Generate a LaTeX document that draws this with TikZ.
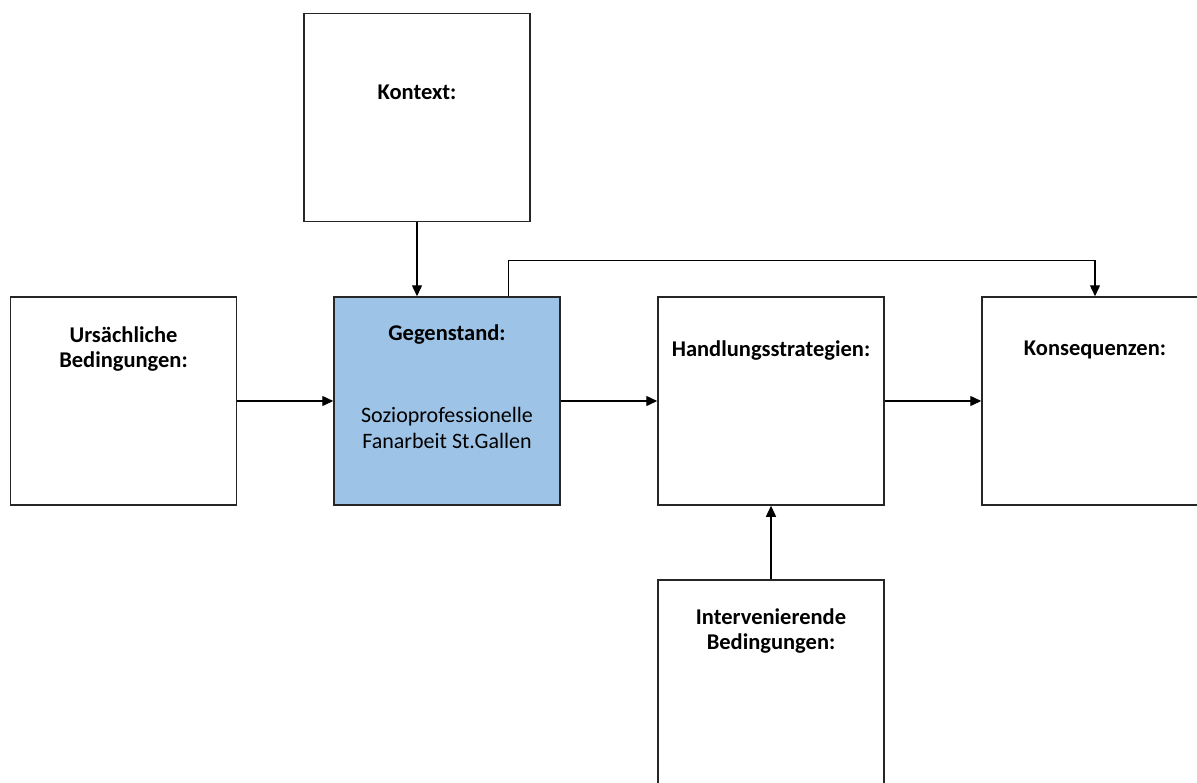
\documentclass[tikz,border=0pt]{standalone}
\usepackage{fontspec}
\setmainfont{Carlito}
\usetikzlibrary{arrows.meta,calc}
\definecolor{boxblue}{HTML}{9DC3E6}
\definecolor{boxline}{HTML}{262626}
\tikzset{
  box/.style={draw=boxline, line width=1.5pt, fill=white, minimum width=226pt,
    minimum height=208pt, inner sep=0pt},
  title/.style={font=\bfseries\fontsize{22.5}{24.5}\selectfont, align=center, inner sep=0pt},
  body/.style={font=\fontsize{22}{25.5}\selectfont, align=center, inner sep=0pt},
  arr/.style={line width=1.4pt, draw=black, -{Triangle[length=11pt,width=10pt]}}
}
\begin{document}
\begin{tikzpicture}[x=1pt, y=-1pt]
    \useasboundingbox (0,0) rectangle (1197,782);
    % boxes
    \node[box] (kontext) at (417,117.5) {};
    \node[box] (ursache) at (123.5,401) {};
    \node[box, fill=boxblue] (gegenstand) at (447,401) {};
    \node[box] (handlung) at (771,401) {};
    \node[box] (konsequenz) at (1095,401) {};
    \node[box] (intervention) at (771,684) {};
    % texts
    \node[title] (kontextT) at (417,92) {Kontext:};
    \node[title] (ursacheT) at (123.5,349) {Ursächliche\\Bedingungen:};
    \node[title] (gegenstandT) at (447,335) {Gegenstand:};
    \node[body] (gegenstandB) at (447,428) {Sozioprofessionelle\\Fanarbeit St.Gallen};
    \node[title] (handlungT) at (771,351) {Handlungsstrategien:};
    \node[title] (konsequenzT) at (1095,350) {Konsequenzen:};
    \node[title] (interventionT) at (771,631) {Intervenierende\\Bedingungen:};
    % connectors
    \draw[arr] (kontext.south) -- (kontext.south |- gegenstand.north);
    \draw[arr] (ursache.east) -- (gegenstand.west);
    \draw[arr] (gegenstand.east) -- (handlung.west);
    \draw[arr] (handlung.east) -- (konsequenz.west);
    \draw[arr] (intervention.north) -- (handlung.south);
    \coordinate (loop) at ($(gegenstand.north east)+(-52,0)$);
    \draw[arr] (loop) -- ++(0,-36) -| (konsequenz.north);
\end{tikzpicture}
\end{document}
